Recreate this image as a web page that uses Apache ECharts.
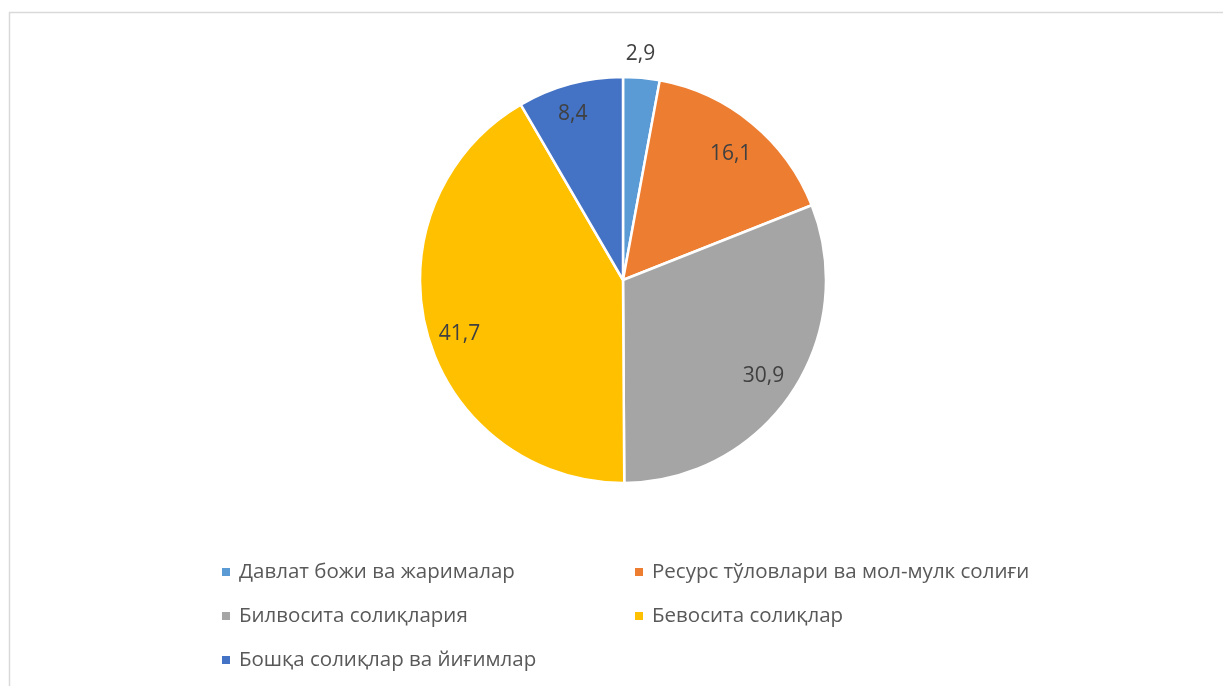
<!DOCTYPE html>
<html>
<head>
<meta charset="utf-8">
<script src="https://cdn.jsdelivr.net/npm/echarts@6/dist/echarts.min.js"></script>
<style>
  html, body { margin: 0; padding: 0; background: #fff; }
  #chart { width: 1223px; height: 686px; }
</style>
</head>
<body>
<div id="chart"></div>
<script>
// данные диаграммы
var categories = [
    'Давлат божи ва жарималар',
    'Ресурс тўловлари ва мол-мулк солиғи',
    'Билвосита солиқлария',
    'Бевосита солиқлар',
    'Бошқа солиқлар ва йиғимлар'
];
var values = [2.9, 16.1, 30.9, 41.7, 8.4];
var colors = ['#5B9BD5', '#ED7D31', '#A5A5A5', '#FFC000', '#4472C4'];

// the small slice has its label pushed out above the pie
var labelOffsets = [[2, -57], [0, 5], [0, 1], [0, 9], [-6, -2]];

var fontFam = '"Open Sans", "Noto Sans", sans-serif';

var pieData = categories.map(function (name, i) {
    return { name: name, value: values[i], itemStyle: { color: colors[i] } };
});
var labelData = categories.map(function (name, i) {
    return {
        name: name,
        value: values[i],
        label: { offset: labelOffsets[i] }
    };
});

var legendText = { fontFamily: fontFam, fontSize: 20.5, color: '#595959', lineHeight: 24, padding: [0, 0, 0, 3] };

var option = {
    animation: false,
    graphic: [{
        type: 'rect',
        shape: { x: 9.5, y: 12.5, width: 1400, height: 900 },
        style: { fill: 'none', stroke: '#d9d9d9', lineWidth: 1.5 },
        silent: true
    }],
    legend: [{
        orient: 'vertical',
        left: 220,
        top: 560,
        padding: 0,
        itemWidth: 10,
        itemHeight: 10,
        itemGap: 20,
        icon: 'rect',
        data: [categories[0], categories[2], categories[4]],
        textStyle: legendText
    }, {
        orient: 'vertical',
        left: 633,
        top: 560,
        padding: 0,
        itemWidth: 10,
        itemHeight: 10,
        itemGap: 20,
        icon: 'rect',
        data: [categories[1], categories[3]],
        textStyle: legendText
    }],
    series: [{
        name: 'pie',
        type: 'pie',
        center: [623, 280],
        radius: 203,
        startAngle: 90,
        clockwise: true,
        label: { show: false },
        labelLine: { show: false },
        emphasis: { disabled: true },
        itemStyle: { borderColor: '#fff', borderWidth: 2.5 },
        data: pieData
    }, {
        name: 'labels',
        type: 'pie',
        center: [623, 280],
        radius: [130, 203],
        startAngle: 90,
        clockwise: true,
        silent: true,
        emphasis: { disabled: true },
        itemStyle: { color: 'rgba(0,0,0,0)', borderWidth: 0 },
        label: {
            show: true,
            position: 'inside',
            fontFamily: fontFam,
            fontSize: 21,
            color: '#404040',
            formatter: function (p) { return String(p.value).replace('.', ','); }
        },
        labelLine: { show: false },
        data: labelData
    }]
};

var myChart = echarts.init(document.getElementById('chart'));
myChart.setOption(option);
</script>
</body>
</html>
